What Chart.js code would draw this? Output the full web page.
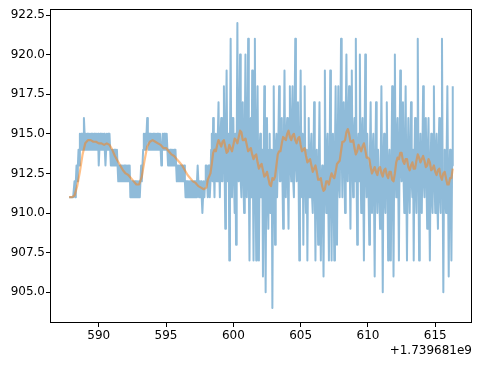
<!DOCTYPE html>
<html>
<head>
<meta charset="utf-8">
<script src="https://cdn.jsdelivr.net/npm/chart.js@4"></script>
<style>
  html, body { margin: 0; padding: 0; background: #fff; }
</style>
</head>
<body>
<canvas id="myChart" width="480" height="366"></canvas>
<script>
// sample times (seconds, offset from 1.739681e9), one row per second
const blueTimes = [
  587.8, 587.85, 587.9, 587.95,
  588.0, 588.05, 588.1, 588.15, 588.2, 588.25, 588.3, 588.35, 588.4, 588.45, 588.5, 588.55, 588.6, 588.65, 588.7, 588.75, 588.8, 588.85, 588.9, 588.95,
  589.0, 589.05, 589.1, 589.15, 589.2, 589.25, 589.3, 589.35, 589.4, 589.45, 589.5, 589.55, 589.6, 589.65, 589.7, 589.75, 589.8, 589.85, 589.9, 589.95,
  590.0, 590.05, 590.1, 590.15, 590.2, 590.25, 590.3, 590.35, 590.4, 590.45, 590.5, 590.55, 590.6, 590.65, 590.7, 590.75, 590.8, 590.85, 590.9, 590.95,
  591.0, 591.05, 591.1, 591.15, 591.2, 591.25, 591.3, 591.35, 591.4, 591.45, 591.5, 591.55, 591.6, 591.65, 591.7, 591.75, 591.8, 591.85, 591.9, 591.95,
  592.0, 592.05, 592.1, 592.15, 592.2, 592.25, 592.3, 592.35, 592.4, 592.45, 592.5, 592.55, 592.6, 592.65, 592.7, 592.75, 592.8, 592.85, 592.9, 592.95,
  593.0, 593.05, 593.1, 593.15, 593.2, 593.25, 593.3, 593.35, 593.4, 593.45, 593.5, 593.55, 593.6, 593.65, 593.7, 593.75, 593.8, 593.85, 593.9, 593.95,
  594.0, 594.05, 594.1, 594.15, 594.2, 594.25, 594.3, 594.35, 594.4, 594.45, 594.5, 594.55, 594.6, 594.65, 594.7, 594.75, 594.8, 594.85, 594.9, 594.95,
  595.0, 595.05, 595.1, 595.15, 595.2, 595.25, 595.3, 595.35, 595.4, 595.45, 595.5, 595.55, 595.6, 595.65, 595.7, 595.75, 595.8, 595.85, 595.9, 595.95,
  596.0, 596.05, 596.1, 596.15, 596.2, 596.25, 596.3, 596.35, 596.4, 596.45, 596.5, 596.55, 596.6, 596.65, 596.7, 596.75, 596.8, 596.85, 596.9, 596.95,
  597.0, 597.05, 597.1, 597.15, 597.2, 597.25, 597.3, 597.35, 597.4, 597.45, 597.5, 597.55, 597.6, 597.65, 597.7, 597.75, 597.8, 597.85, 597.9, 597.95,
  598.0, 598.05, 598.1, 598.15, 598.2, 598.25, 598.3, 598.35, 598.4, 598.45, 598.5, 598.55, 598.6, 598.65, 598.7, 598.75, 598.8, 598.85, 598.9, 598.95,
  599.0, 599.05, 599.1, 599.15, 599.2, 599.25, 599.3, 599.35, 599.4, 599.45, 599.5, 599.55, 599.6, 599.65, 599.7, 599.75, 599.8, 599.85, 599.9, 599.95,
  600.0, 600.05, 600.1, 600.15, 600.2, 600.25, 600.3, 600.35, 600.4, 600.45, 600.5, 600.55, 600.6, 600.65, 600.7, 600.75, 600.8, 600.85, 600.9, 600.95,
  601.0, 601.05, 601.1, 601.15, 601.2, 601.25, 601.3, 601.35, 601.4, 601.45, 601.5, 601.55, 601.6, 601.65, 601.7, 601.75, 601.8, 601.85, 601.9, 601.95,
  602.0, 602.05, 602.1, 602.15, 602.2, 602.25, 602.3, 602.35, 602.4, 602.45, 602.5, 602.55, 602.6, 602.65, 602.7, 602.75, 602.8, 602.85, 602.9, 602.95,
  603.0, 603.05, 603.1, 603.15, 603.2, 603.25, 603.3, 603.35, 603.4, 603.45, 603.5, 603.55, 603.6, 603.65, 603.7, 603.75, 603.8, 603.85, 603.9, 603.95,
  604.0, 604.05, 604.1, 604.15, 604.2, 604.25, 604.3, 604.35, 604.4, 604.45, 604.5, 604.55, 604.6, 604.65, 604.7, 604.75, 604.8, 604.85, 604.9, 604.95,
  605.0, 605.05, 605.1, 605.15, 605.2, 605.25, 605.3, 605.35, 605.4, 605.45, 605.5, 605.55, 605.6, 605.65, 605.7, 605.75, 605.8, 605.85, 605.9, 605.95,
  606.0, 606.05, 606.1, 606.15, 606.2, 606.25, 606.3, 606.35, 606.4, 606.45, 606.5, 606.55, 606.6, 606.65, 606.7, 606.75, 606.8, 606.85, 606.9, 606.95,
  607.0, 607.05, 607.1, 607.15, 607.2, 607.25, 607.3, 607.35, 607.4, 607.45, 607.5, 607.55, 607.6, 607.65, 607.7, 607.75, 607.8, 607.85, 607.9, 607.95,
  608.0, 608.05, 608.1, 608.15, 608.2, 608.25, 608.3, 608.35, 608.4, 608.45, 608.5, 608.55, 608.6, 608.65, 608.7, 608.75, 608.8, 608.85, 608.9, 608.95,
  609.0, 609.05, 609.1, 609.15, 609.2, 609.25, 609.3, 609.35, 609.4, 609.45, 609.5, 609.55, 609.6, 609.65, 609.7, 609.75, 609.8, 609.85, 609.9, 609.95,
  610.0, 610.05, 610.1, 610.15, 610.2, 610.25, 610.3, 610.35, 610.4, 610.45, 610.5, 610.55, 610.6, 610.65, 610.7, 610.75, 610.8, 610.85, 610.9, 610.95,
  611.0, 611.05, 611.1, 611.15, 611.2, 611.25, 611.3, 611.35, 611.4, 611.45, 611.5, 611.55, 611.6, 611.65, 611.7, 611.75, 611.8, 611.85, 611.9, 611.95,
  612.0, 612.05, 612.1, 612.15, 612.2, 612.25, 612.3, 612.35, 612.4, 612.45, 612.5, 612.55, 612.6, 612.65, 612.7, 612.75, 612.8, 612.85, 612.9, 612.95,
  613.0, 613.05, 613.1, 613.15, 613.2, 613.25, 613.3, 613.35, 613.4, 613.45, 613.5, 613.55, 613.6, 613.65, 613.7, 613.75, 613.8, 613.85, 613.9, 613.95,
  614.0, 614.05, 614.1, 614.15, 614.2, 614.25, 614.3, 614.35, 614.4, 614.45, 614.5, 614.55, 614.6, 614.65, 614.7, 614.75, 614.8, 614.85, 614.9, 614.95,
  615.0, 615.05, 615.1, 615.15, 615.2, 615.25, 615.3, 615.35, 615.4, 615.45, 615.5, 615.55, 615.6, 615.65, 615.7, 615.75, 615.8, 615.85, 615.9, 615.95,
  616.0, 616.05, 616.1, 616.15, 616.2, 616.25, 616.3
];

// raw readings, same rows as blueTimes
const blueValues = [
  911, 911, 911, 911,
  911, 911, 911, 911, 912, 911, 912, 913, 912, 913, 914, 913, 915, 914, 915, 914, 915, 914, 916, 915,
  914, 915, 914, 915, 914, 915, 914, 915, 914, 915, 914, 915, 914, 915, 914, 915, 914, 915, 914, 915,
  913, 914, 915, 914, 915, 914, 915, 914, 915, 914, 913, 914, 915, 914, 915, 914, 915, 914, 913, 914,
  913, 914, 913, 914, 913, 914, 913, 914, 913, 912, 913, 912, 913, 912, 913, 912, 913, 912, 913, 912,
  913, 912, 913, 912, 913, 912, 913, 911, 912, 911, 912, 911, 912, 911, 912, 911, 912, 911, 912, 911,
  912, 911, 912, 913, 912, 913, 914, 915, 914, 915, 914, 915, 916, 915, 914, 915, 914, 915, 914, 915,
  914, 915, 914, 915, 914, 915, 914, 915, 914, 915, 914, 915, 914, 913, 914, 915, 914, 915, 914, 915,
  914, 915, 914, 913, 914, 913, 914, 913, 914, 913, 914, 913, 914, 913, 914, 913, 912, 913, 912, 913,
  912, 913, 912, 913, 912, 913, 912, 913, 912, 911, 912, 911, 912, 911, 912, 911, 912, 911, 912, 911,
  912, 911, 912, 911, 912, 911, 912, 913, 912, 911, 912, 911, 912, 911, 910, 911, 912, 911, 912, 913,
  913, 912, 911, 913, 913, 911, 912, 914, 915, 912, 916, 913, 911, 914, 915, 912, 912, 915, 917, 913,
  911, 915, 916, 912, 912, 916, 918, 913, 909, 915, 919, 913, 912, 915, 907, 914, 921, 913, 911, 916,
  916, 912, 910, 915, 908, 914, 922, 913, 912, 916, 920, 912, 911, 916, 917, 912, 910, 915, 920, 913,
  911, 915, 921, 912, 907, 914, 916, 911, 919, 913, 907, 914, 921, 912, 907, 915, 918, 912, 907, 914,
  915, 911, 912, 914, 906, 913, 918, 911, 905, 913, 916, 911, 909, 914, 915, 910, 912, 914, 904, 912,
  918, 912, 908, 914, 915, 911, 911, 915, 918, 912, 912, 915, 916, 912, 909, 914, 919, 913, 911, 915,
  916, 912, 909, 915, 918, 913, 912, 916, 918, 912, 911, 916, 921, 913, 912, 915, 917, 912, 907, 914,
  919, 913, 911, 915, 908, 914, 918, 912, 910, 914, 907, 913, 916, 911, 911, 914, 915, 911, 910, 913,
  917, 912, 907, 913, 914, 911, 908, 913, 917, 911, 907, 912, 913, 910, 906, 912, 919, 912, 910, 914,
  915, 911, 907, 913, 919, 912, 907, 913, 915, 911, 907, 914, 918, 912, 908, 914, 918, 912, 911, 915,
  921, 914, 911, 916, 917, 913, 910, 916, 920, 914, 912, 916, 918, 913, 909, 915, 919, 913, 911, 915,
  916, 912, 921, 913, 908, 914, 915, 912, 920, 913, 910, 915, 916, 912, 907, 914, 920, 913, 911, 915,
  915, 911, 908, 914, 917, 912, 910, 914, 915, 911, 906, 913, 917, 912, 910, 914, 914, 911, 909, 913,
  918, 912, 905, 913, 915, 911, 910, 914, 917, 912, 907, 913, 914, 911, 907, 913, 918, 912, 906, 913,
  920, 913, 911, 915, 916, 912, 907, 914, 919, 913, 912, 915, 917, 912, 910, 914, 918, 912, 907, 913,
  916, 912, 910, 914, 917, 912, 911, 914, 907, 913, 916, 912, 910, 915, 921, 913, 907, 912, 915, 911,
  910, 914, 918, 912, 911, 915, 916, 912, 909, 914, 916, 911, 907, 913, 915, 911, 910, 914, 918, 912,
  910, 914, 915, 911, 909, 914, 916, 911, 910, 915, 921, 912, 905, 912, 914, 911, 910, 914, 918, 912,
  906, 912, 914, 911, 907, 913, 918
];

// smoothed curve
const orangeTimes = [
  587.8, 588.0, 588.2, 588.4, 588.6, 588.8, 589.0, 589.2, 589.4, 589.6, 589.8,
  590.0, 590.2, 590.4, 590.6, 590.8, 591.0, 591.2, 591.4, 591.6, 591.8,
  592.0, 592.2, 592.4, 592.6, 592.8, 593.0, 593.2, 593.4, 593.6, 593.8,
  594.0, 594.2, 594.4, 594.6, 594.8, 595.0, 595.2, 595.4, 595.6, 595.8,
  596.0, 596.2, 596.4, 596.6, 596.8, 597.0, 597.2, 597.4, 597.6, 597.8,
  598.0, 598.1, 598.2, 598.3, 598.4, 598.5, 598.6, 598.7, 598.8, 598.9,
  599.0, 599.1, 599.2, 599.3, 599.4, 599.5, 599.6, 599.7, 599.8, 599.9,
  600.0, 600.1, 600.2, 600.3, 600.4, 600.5, 600.6, 600.7, 600.8, 600.9,
  601.0, 601.1, 601.2, 601.3, 601.4, 601.5, 601.6, 601.7, 601.8, 601.9,
  602.0, 602.1, 602.2, 602.3, 602.4, 602.5, 602.6, 602.7, 602.8, 602.9,
  603.0, 603.1, 603.2, 603.3, 603.4, 603.5, 603.6, 603.7, 603.8, 603.9,
  604.0, 604.1, 604.2, 604.3, 604.4, 604.5, 604.6, 604.7, 604.8, 604.9,
  605.0, 605.1, 605.2, 605.3, 605.4, 605.5, 605.6, 605.7, 605.8, 605.9,
  606.0, 606.1, 606.2, 606.3, 606.4, 606.5, 606.6, 606.7, 606.8, 606.9,
  607.0, 607.1, 607.2, 607.3, 607.4, 607.5, 607.6, 607.7, 607.8, 607.9,
  608.0, 608.1, 608.2, 608.3, 608.4, 608.5, 608.6, 608.7, 608.8, 608.9,
  609.0, 609.1, 609.2, 609.3, 609.4, 609.5, 609.6, 609.7, 609.8, 609.9,
  610.0, 610.1, 610.2, 610.3, 610.4, 610.5, 610.6, 610.7, 610.8, 610.9,
  611.0, 611.1, 611.2, 611.3, 611.4, 611.5, 611.6, 611.7, 611.8, 611.9,
  612.0, 612.1, 612.2, 612.3, 612.4, 612.5, 612.6, 612.7, 612.8, 612.9,
  613.0, 613.1, 613.2, 613.3, 613.4, 613.5, 613.6, 613.7, 613.8, 613.9,
  614.0, 614.1, 614.2, 614.3, 614.4, 614.5, 614.6, 614.7, 614.8, 614.9,
  615.0, 615.1, 615.2, 615.3, 615.4, 615.5, 615.6, 615.7, 615.8, 615.9,
  616.0, 616.1, 616.2, 616.3
];

const orangeValues = [
  911.0, 911.0, 911.1, 911.7, 912.6, 913.7, 914.4, 914.6, 914.6, 914.5, 914.5,
  914.4, 914.4, 914.3, 914.4, 914.3, 914.0, 913.6, 913.3, 913.0, 912.7,
  912.5, 912.4, 912.2, 912.0, 911.8, 911.8, 912.3, 913.3, 914.2, 914.5,
  914.6, 914.5, 914.4, 914.3, 914.1, 914.1, 913.9, 913.7, 913.6, 913.4,
  913.2, 913.0, 912.7, 912.4, 912.2, 912.0, 911.9, 911.7, 911.6, 911.5,
  911.6, 912.1, 912.3, 912.5, 913.1, 913.8, 914.0, 913.9, 914.3, 914.6,
  914.4, 914.2, 914.5, 914.6, 914.2, 913.8, 913.9, 914.3, 914.1, 913.9,
  914.3, 914.7, 914.6, 914.4, 914.8, 915.2, 915.1, 914.6, 914.6, 914.7,
  914.3, 913.9, 914.0, 914.1, 913.7, 913.4, 913.6, 913.7, 913.2, 912.8,
  913.0, 913.1, 912.7, 912.3, 912.4, 912.6, 912.2, 911.8, 911.7, 912.2,
  912.1, 912.3, 913.0, 913.7, 913.9, 913.9, 914.4, 914.8, 914.7, 914.6,
  915.0, 915.2, 914.8, 914.6, 914.9, 915.0, 914.6, 914.4, 914.7, 914.8,
  914.3, 913.9, 914.0, 914.1, 913.6, 913.2, 913.3, 913.4, 913.0, 912.6,
  912.8, 913.0, 912.6, 912.1, 912.1, 912.2, 911.7, 911.4, 911.5, 912.0,
  912.0, 911.8, 912.2, 912.5, 912.3, 912.2, 912.6, 913.1, 913.2, 913.3,
  913.9, 914.5, 914.5, 914.6, 915.1, 915.3, 915.0, 914.5, 914.5, 914.6,
  914.1, 913.7, 913.9, 914.3, 914.1, 913.9, 914.2, 914.4, 914.0, 913.5,
  913.5, 913.4, 912.9, 912.5, 912.7, 912.9, 912.6, 912.4, 912.8, 912.9,
  912.5, 912.3, 912.7, 912.8, 912.4, 912.2, 912.6, 912.6, 912.1, 912.0,
  912.5, 913.2, 913.5, 913.4, 913.8, 913.8, 913.3, 913.1, 913.4, 913.4,
  912.9, 912.7, 913.0, 913.2, 912.8, 912.8, 913.3, 913.7, 913.5, 913.2,
  913.4, 913.6, 913.3, 912.9, 913.0, 913.4, 913.2, 912.7, 912.8, 913.0,
  912.6, 912.4, 912.7, 912.8, 912.3, 912.1, 912.5, 912.6, 912.2, 911.8,
  911.8, 912.2, 912.2, 912.8
];

const xTickValues = [590, 595, 600, 605, 610, 615];
const yTickValues = [905.0, 907.5, 910.0, 912.5, 915.0, 917.5, 920.0, 922.5];
const offsetText = "+1.739681e9";

const tickFont = { family: "DejaVu Sans", size: 12 };

// black box round the plot area, like the matplotlib frame
const frameBox = {
  id: "frameBox",
  afterDatasetsDraw(chart) {
    const { ctx, chartArea: { left, top, right, bottom } } = chart;
    ctx.save();
    ctx.strokeStyle = "#000";
    ctx.lineWidth = 1;
    ctx.strokeRect(left + 0.5, top + 0.5, right - left - 1, bottom - top);
    ctx.restore();
  },
};

const config = {
  type: "line",
  data: {
    datasets: [
      {
        label: "raw",
        data: blueTimes.map((t, i) => ({ x: t, y: blueValues[i] })),
        borderColor: "rgba(31, 119, 180, 0.5)",
        borderWidth: 2,
        borderJoinStyle: "round",
        pointRadius: 0,
        tension: 0,
        order: 2,
      },
      {
        label: "smoothed",
        data: orangeTimes.map((t, i) => ({ x: t, y: orangeValues[i] })),
        borderColor: "rgba(255, 127, 14, 0.5)",
        borderWidth: 2.2,
        borderJoinStyle: "round",
        pointRadius: 0,
        tension: 0,
        order: 1,
      },
    ],
  },
  options: {
    responsive: false,
    animation: false,
    devicePixelRatio: 1,
    layout: { padding: { top: 9, right: 8, left: 0, bottom: 0 } },
    plugins: { legend: { display: false }, tooltip: { enabled: false } },
    scales: {
      x: {
        type: "linear",
        min: 586.38,
        max: 617.73,
        afterFit(scale) { scale.height = 44; },
        afterBuildTicks(scale) { scale.ticks = xTickValues.map((v) => ({ value: v })); },
        ticks: {
          font: tickFont,
          color: "#000",
          padding: 2,
          maxRotation: 0,
          autoSkip: false,
          callback: (v) => String(v),
        },
        grid: { display: true, drawOnChartArea: false, drawTicks: true, tickLength: 5, color: "#000" },
        border: { display: false },
        title: {
          display: true,
          text: offsetText,
          align: "end",
          color: "#000",
          font: tickFont,
          padding: { top: 0, bottom: 8 },
        },
      },
      y: {
        min: 903.12,
        max: 922.88,
        afterFit(scale) { scale.width = 50; },
        afterBuildTicks(scale) { scale.ticks = yTickValues.map((v) => ({ value: v })); },
        ticks: {
          font: tickFont,
          color: "#000",
          padding: 1,
          callback: (v) => Number(v).toFixed(1),
        },
        grid: { display: true, drawOnChartArea: false, drawTicks: true, tickLength: 4, color: "#000" },
        border: { display: false },
      },
    },
  },
  plugins: [frameBox],
};

const myChart = new Chart(document.getElementById("myChart"), config);
</script>
</body>
</html>
